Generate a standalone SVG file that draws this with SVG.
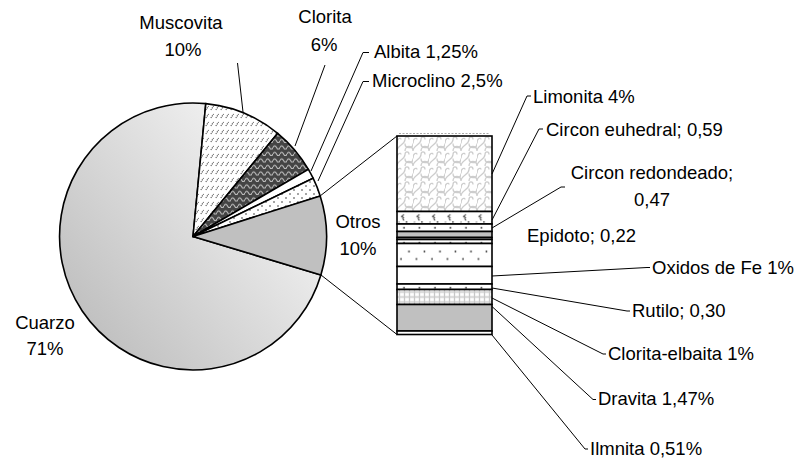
<svg xmlns="http://www.w3.org/2000/svg" width="804" height="460" viewBox="0 0 804 460">
<style>
text{font-family:"Liberation Sans",Arial,sans-serif;font-size:18.5px;fill:#000}
.m{text-anchor:middle}
.sl{stroke:#000;stroke-width:1.6;stroke-linejoin:round}
.bd{stroke:#000;stroke-width:1.6}
.ld{fill:none;stroke:#000;stroke-width:1}
</style>
<defs>
<linearGradient id="gq" x1="0.95" y1="0.25" x2="0.1" y2="0.95">
<stop offset="0" stop-color="#f6f6f6"/>
<stop offset="1" stop-color="#bcbcbc"/>
</linearGradient>
<pattern id="pMus" width="5" height="8" patternUnits="userSpaceOnUse">
<rect width="5" height="8" fill="#fff"/>
<path d="M0.8,6 L3.6,2" stroke="#555" stroke-width="1.1" stroke-dasharray="1.2,0.8"/>
</pattern>
<pattern id="pClo" width="7" height="6.5" patternUnits="userSpaceOnUse">
<rect width="7" height="6.5" fill="#444"/>
<path d="M0,4.5 Q1.75,1 3.5,4.5 T7,4.5" fill="none" stroke="#c8c8c8" stroke-width="1"/>
</pattern>
<pattern id="pDot" width="8" height="8" patternUnits="userSpaceOnUse">
<rect width="8" height="8" fill="#fff"/>
<circle cx="2" cy="2" r="0.8" fill="#333"/>
<circle cx="6" cy="6" r="0.8" fill="#333"/>
</pattern>
<pattern id="pLim" x="397" y="136" width="16" height="15" patternUnits="userSpaceOnUse">
<rect width="16" height="15" fill="#fff"/>
<path d="M0,15 C0,9 8,9 8,3.5 C8,0 12,0 12,3.5 M8,7.5 C8,13 16,13 16,7.5 M16,15 C16,9 8,9 8,15 M0,7.5 C0,1.5 4,1.5 4,3.5" fill="none" stroke="#cdcdcd" stroke-width="1.3"/>
</pattern>
<pattern id="pEuh" x="397" y="211.5" width="15.5" height="12.5" patternUnits="userSpaceOnUse">
<rect width="15.5" height="12.5" fill="#fff"/>
<path d="M7,3 L4.5,5 L7,6.5 M5.5,7 L7,9" fill="none" stroke="#333" stroke-width="1"/>
<circle cx="9.5" cy="10.5" r="0.8" fill="#333"/>
<circle cx="2" cy="10.5" r="0.6" fill="#555"/>
</pattern>
<pattern id="pRow" x="397" y="224" width="15.5" height="7.5" patternUnits="userSpaceOnUse">
<rect width="15.5" height="7.5" fill="#fff"/>
<circle cx="7" cy="3.8" r="0.9" fill="#333"/>
</pattern>
<pattern id="pTwo" x="397" y="243.5" width="15.5" height="23" patternUnits="userSpaceOnUse">
<rect width="15.5" height="23" fill="#fff"/>
<circle cx="12" cy="8" r="0.9" fill="#333"/>
<circle cx="4" cy="15.5" r="0.9" fill="#333"/>
</pattern>
<pattern id="pGrid" x="397" y="289.5" width="5" height="5" patternUnits="userSpaceOnUse">
<rect width="5" height="5" fill="#fff"/>
<path d="M2.5,0 V5 M0,2.5 H5" stroke="#c8c8c8" stroke-width="1.3"/>
</pattern>
</defs>
<rect width="804" height="460" fill="#fff"/>

<g id="pie">
<g id="cuarzo"><path class="sl" fill="url(#gq)" d="M193,236.5 L320.9,274.9 A133.5,133.5 0 1 1 205.8,103.6 Z"/></g>
<g id="muscovita"><path class="sl" fill="url(#pMus)" d="M193,236.5 L205.8,103.6 A133.5,133.5 0 0 1 277.7,133.3 Z"/></g>
<g id="clorita"><path class="sl" fill="url(#pClo)" d="M193,236.5 L277.7,133.3 A133.5,133.5 0 0 1 308.4,169.35 Z"/></g>
<g id="albita"><path class="sl" fill="#fff" d="M193,236.5 L308.4,169.35 A133.5,133.5 0 0 1 313.1,178.2 Z"/></g>
<g id="microclino"><path class="sl" fill="url(#pDot)" d="M193,236.5 L313.1,178.2 A133.5,133.5 0 0 1 320.2,195.9 Z"/></g>
<g id="otros"><path class="sl" fill="#c0c0c0" d="M193,236.5 L320.2,195.9 A133.5,133.5 0 0 1 320.9,274.9 Z"/></g>
</g>

<g id="bar">
<line x1="399" y1="133.5" x2="490" y2="133.5" stroke="#aaa" stroke-width="1.2" stroke-dasharray="2,1.5"/>
<g id="limonita"><rect class="bd" x="397" y="136" width="95" height="75.5" fill="url(#pLim)"/></g>
<g id="circon-euhedral"><rect class="bd" x="397" y="211.5" width="95" height="12.5" fill="url(#pEuh)"/></g>
<g id="circon-redondeado"><rect class="bd" x="397" y="224" width="95" height="7.5" fill="url(#pRow)"/></g>
<g id="epidoto"><rect class="bd" x="397" y="231.5" width="95" height="6" fill="#c0c0c0"/></g>
<g id="bar-thin-a"><rect class="bd" x="397" y="237.5" width="95" height="2" fill="#fff"/></g>
<g id="bar-thin-b"><rect class="bd" x="397" y="239.5" width="95" height="4" fill="url(#pRow)"/></g>
<g id="bar-dotted"><rect class="bd" x="397" y="243.5" width="95" height="23" fill="url(#pTwo)"/></g>
<g id="oxidos-fe"><rect class="bd" x="397" y="266.5" width="95" height="17.5" fill="#fff"/></g>
<g id="rutilo"><rect class="bd" x="397" y="284" width="95" height="5.5" fill="url(#pRow)"/></g>
<g id="clorita-elbaita"><rect class="bd" x="397" y="289.5" width="95" height="15" fill="url(#pGrid)"/></g>
<g id="dravita"><rect class="bd" x="397" y="304.5" width="95" height="26.5" fill="#c0c0c0"/></g>
<g id="ilmnita"><rect class="bd" x="397" y="331" width="95" height="3.5" fill="#fff"/></g>
</g>

<g id="connectors">
<path class="ld" d="M320.2,195.9 L397,136"/>
<path class="ld" d="M320.9,274.9 L397,334.5"/>
<path class="ld" d="M243,112 L237.5,63"/>
<path class="ld" d="M295,146 L325,65"/>
<path class="ld" d="M311,171 L363,52.5 H369"/>
<path class="ld" d="M318,181 L363,81.5 H369"/>
<path class="ld" d="M492,174 L527,96 H531"/>
<path class="ld" d="M492,220 L539,129 H543"/>
<path class="ld" d="M492,228 L561,187 H565"/>
<path class="ld" d="M492,276 L647,267.5 H650"/>
<path class="ld" d="M492,288 L627,311 H630"/>
<path class="ld" d="M492,298 L603,354 H606"/>
<path class="ld" d="M492,306.5 L593,399.5 H596"/>
<path class="ld" d="M492,335 L585,449 H588"/>
</g>

<g id="labels">
<g id="lbl-muscovita"><text class="m" x="181" y="29">Muscovita</text><text class="m" x="183" y="56">10%</text></g>
<g id="lbl-clorita"><text class="m" x="325" y="23">Clorita</text><text class="m" x="324" y="51">6%</text></g>
<g id="lbl-albita"><text x="374" y="58">Albita 1,25%</text></g>
<g id="lbl-microclino"><text x="372" y="87">Microclino 2,5%</text></g>
<g id="lbl-limonita"><text x="533" y="103">Limonita 4%</text></g>
<g id="lbl-circon-euhedral"><text x="546" y="136">Circon euhedral; 0,59</text></g>
<g id="lbl-circon-redondeado"><text class="m" x="652" y="179">Circon redondeado;</text><text class="m" x="652" y="206">0,47</text></g>
<g id="lbl-epidoto"><text x="527" y="242">Epidoto; 0,22</text></g>
<g id="lbl-oxidos"><text x="652" y="274">Oxidos de Fe 1%</text></g>
<g id="lbl-rutilo"><text x="632" y="317">Rutilo; 0,30</text></g>
<g id="lbl-clorita-elbaita"><text x="608" y="360">Clorita-elbaita 1%</text></g>
<g id="lbl-dravita"><text x="598" y="405">Dravita 1,47%</text></g>
<g id="lbl-ilmnita"><text x="590" y="455">Ilmnita 0,51%</text></g>
<g id="lbl-otros"><text class="m" x="358" y="228">Otros</text><text class="m" x="358" y="255">10%</text></g>
<g id="lbl-cuarzo"><text class="m" x="45" y="329">Cuarzo</text><text class="m" x="45" y="355">71%</text></g>
</g>
</svg>
